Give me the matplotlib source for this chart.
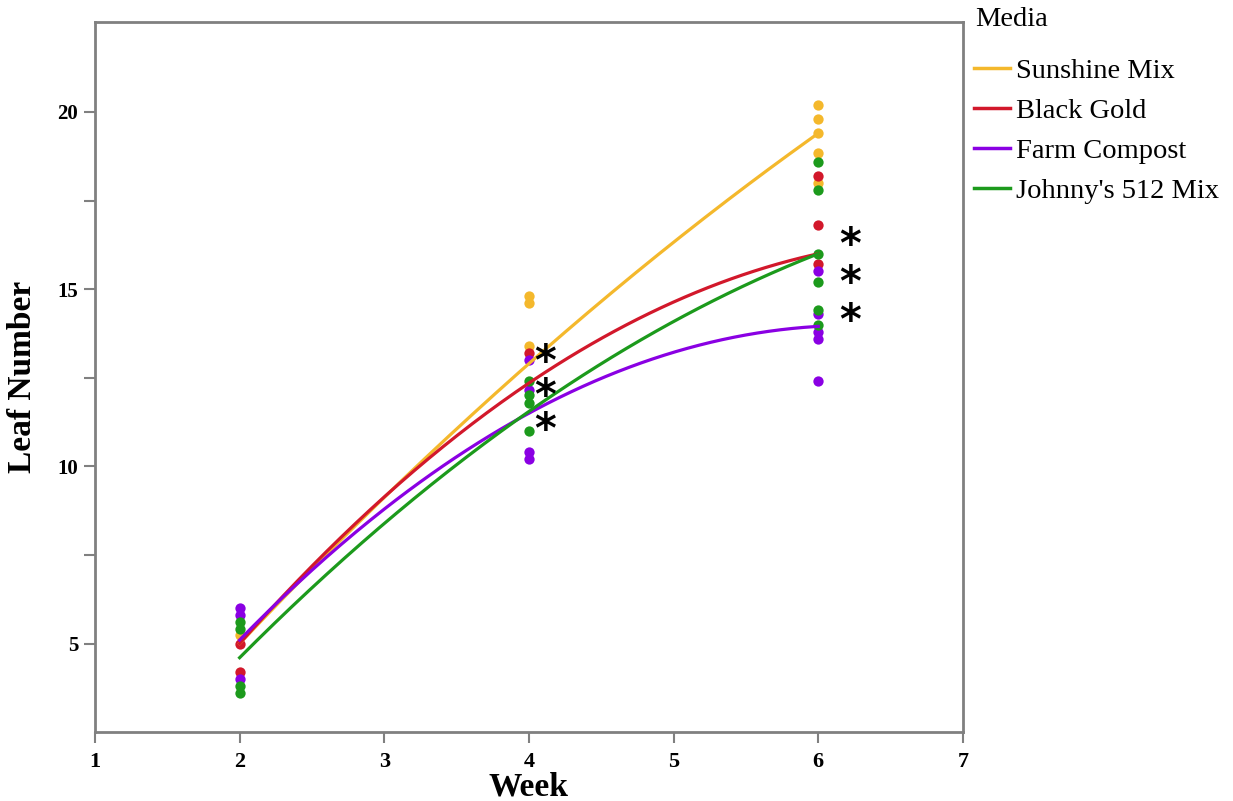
import numpy as np
import matplotlib
matplotlib.use("Agg")
import matplotlib.pyplot as plt
from matplotlib.ticker import MultipleLocator, FixedLocator

plt.rcParams['font.family'] = ['Liberation Serif', 'DejaVu Serif']

media = ["Sunshine Mix", "Black Gold", "Farm Compost", "Johnny's 512 Mix"]
colors = ["#F4B82C", "#D2182B", "#8A00E3", "#1C9A1C"]
weeks = [2, 4, 6]

# observed leaf numbers per medium, per week
obs = {
    "Sunshine Mix":     {2: [5.25], 4: [14.8, 14.6, 13.4], 6: [20.2, 19.8, 19.4, 18.85, 18.0]},
    "Black Gold":       {2: [5.0, 4.2], 4: [13.2], 6: [18.2, 16.8, 15.7]},
    "Farm Compost":     {2: [6.0, 5.8, 4.0], 4: [13.0, 12.15, 10.4, 10.2], 6: [15.5, 14.3, 13.8, 13.6, 12.4]},
    "Johnny's 512 Mix": {2: [5.6, 5.4, 3.8, 3.6], 4: [12.4, 12.0, 11.8, 11.0], 6: [18.6, 17.8, 16.0, 15.2, 14.4, 14.0]},
}
# fitted mean values at weeks 2, 4, 6
fit_means = {
    "Sunshine Mix":     [5.0, 12.9, 19.4],
    "Black Gold":       [5.0, 12.35, 16.0],
    "Farm Compost":     [5.1, 11.5, 13.95],
    "Johnny's 512 Mix": [4.6, 11.55, 16.0],
}
# significance asterisk groups (week, centre leaf number)
star_x = [4.11, 6.22]
star_y = [11.95, 15.15]
star_spacing = [0.75, 0.88]

fig = plt.figure(figsize=(12.33, 8.01), dpi=100)
ax = fig.add_axes([0.077, 0.086, 0.704, 0.887])

for m, c in zip(media, colors):
    for w in weeks:
        ys = obs[m][w]
        ax.scatter([w] * len(ys), ys, s=55, color=c, zorder=2, linewidths=0)

xs = np.linspace(2, 6, 200)
for m, c in zip(media, colors):
    coef = np.polyfit(weeks, fit_means[m], 2)
    ax.plot(xs, np.polyval(coef, xs), color=c, lw=2.3, zorder=3, label=m)

for x, y, ls in zip(star_x, star_y, star_spacing):
    ax.text(x, y, "*\n*\n*", fontsize=30, fontweight='bold', ha="center", va="center",
            family="DejaVu Sans", linespacing=ls, zorder=4)

ax.set_xlim(1, 7)
ax.set_ylim(2.5, 22.55)
ax.xaxis.set_major_locator(MultipleLocator(1))
ax.yaxis.set_major_locator(MultipleLocator(5))
ax.yaxis.set_minor_locator(FixedLocator([7.5, 12.5, 17.5]))
ax.tick_params(axis='both', which='both', direction='out', color='#808080', width=1.5)
ax.tick_params(axis='x', length=8, labelsize=16, pad=6)
ax.tick_params(axis='y', which='major', length=8, labelsize=15, pad=4)
ax.tick_params(axis='y', which='minor', length=8)
for lab in ax.get_xticklabels() + ax.get_yticklabels():
    lab.set_fontweight('bold')
for sp in ax.spines.values():
    sp.set_color('#808080')
    sp.set_linewidth(2)

ax.set_xlabel("Week", fontsize=24, fontweight='bold', labelpad=0)
ax.set_ylabel("Leaf Number", fontsize=24, fontweight='bold', labelpad=14)

leg = ax.legend(loc="upper left", bbox_to_anchor=(1.0, 0.965), frameon=False,
                fontsize=20.5, handlelength=1.26, handletextpad=0.2,
                labelspacing=0.5, borderaxespad=0)
for h in leg.get_lines():
    h.set_linewidth(2.5)
fig.text(975 / 1233, 1 - 20 / 801, "Media", fontsize=20.5, ha="left", va="center")

fig.savefig("out.png", dpi=100)
